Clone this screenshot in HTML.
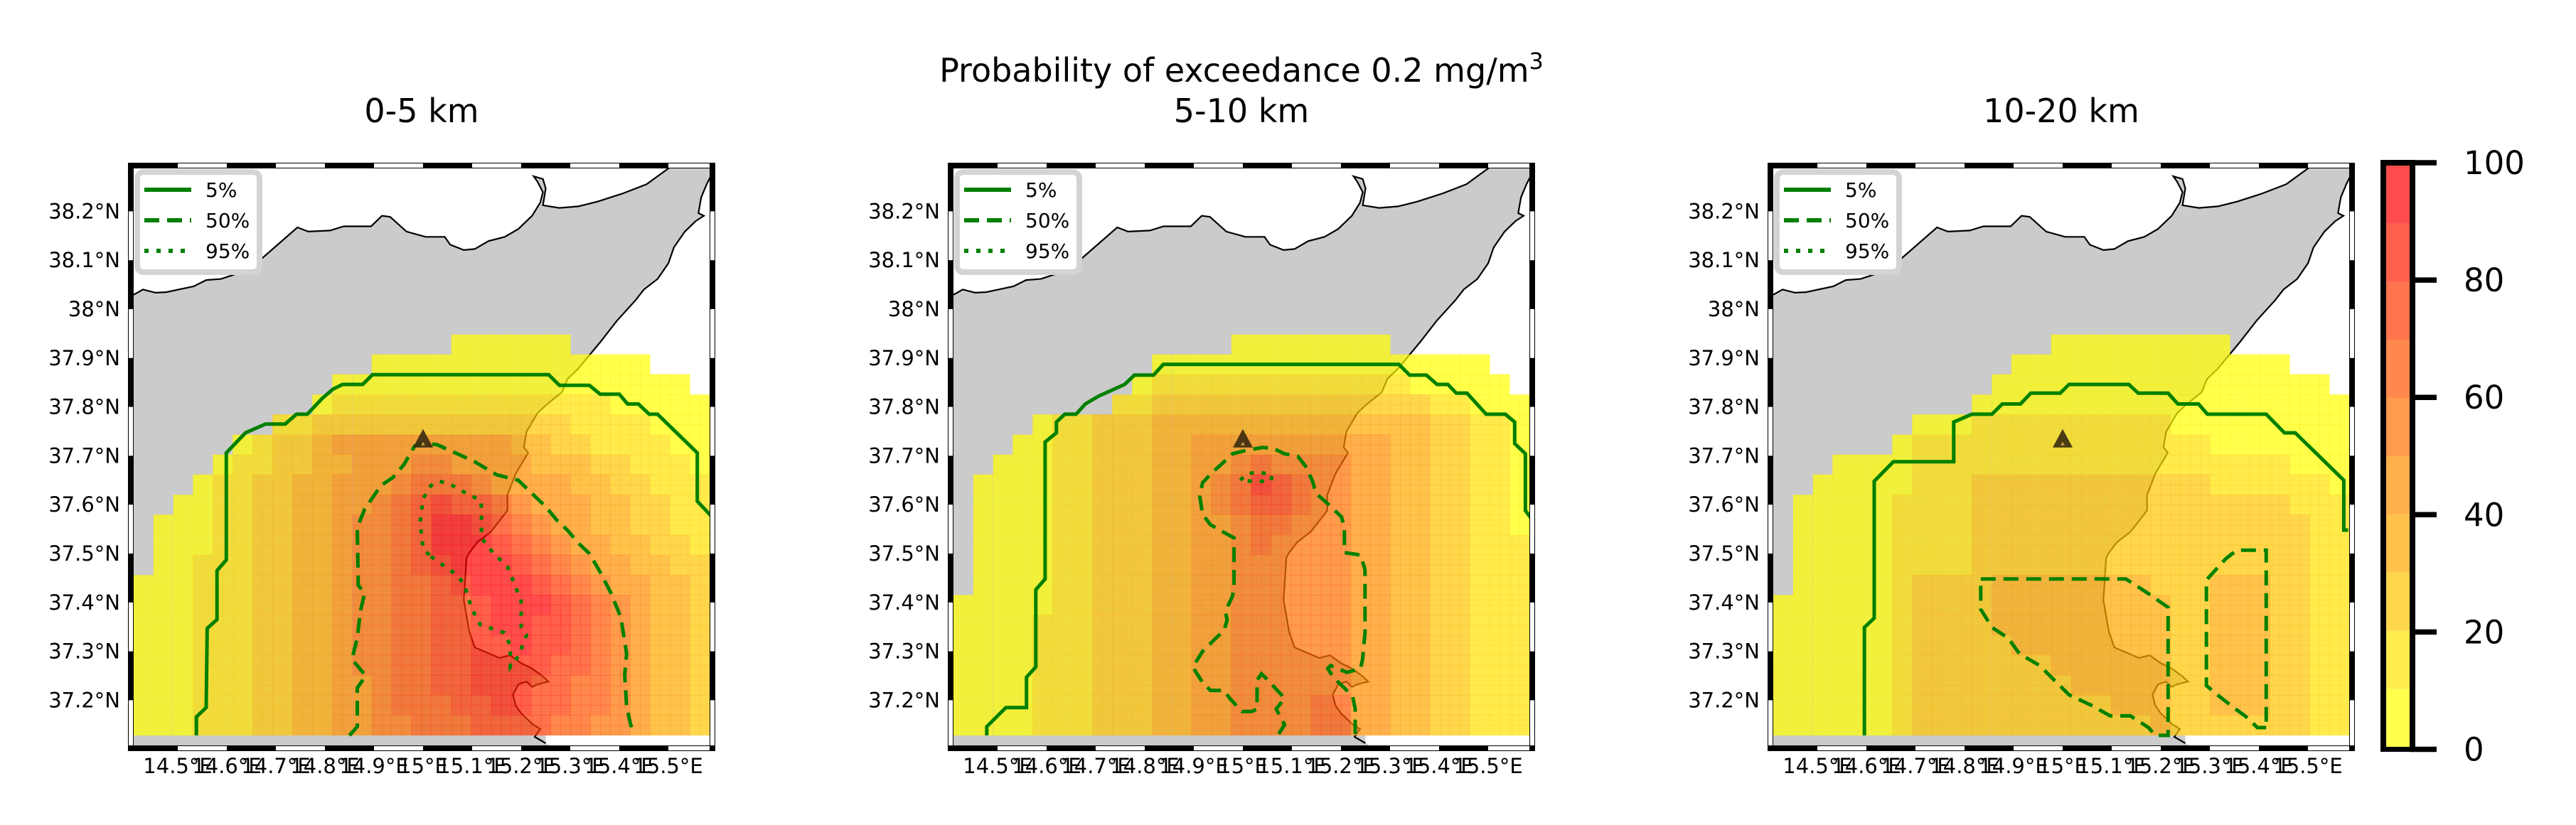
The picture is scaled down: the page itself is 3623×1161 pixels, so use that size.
<!DOCTYPE html>
<html><head><meta charset="utf-8"><style>
html,body{margin:0;padding:0;background:#fff;}
svg{display:block;font-family:"DejaVu Sans","Liberation Sans",sans-serif;}
</style></head><body>
<svg id="fig" xmlns="http://www.w3.org/2000/svg" width="3623" height="1161" viewBox="0 0 3623 1161">
<rect width="3623" height="1161" fill="#fff"/>
<text x="1746" y="115" font-size="46" text-anchor="middle">Probability of exceedance 0.2 mg/m<tspan font-size="32" dy="-18">3</tspan></text>
<g id="panels"></g>
<g id="cbar"></g>
</svg>
<script>
// ---------- data ----------
const panelTitles = ["0-5 km", "5-10 km", "10-20 km"];
const lonTicks = [14.5, 14.6, 14.7, 14.8, 14.9, 15.0, 15.1, 15.2, 15.3, 15.4, 15.5];
const latTicks = [37.2, 37.3, 37.4, 37.5, 37.6, 37.7, 37.8, 37.9, 38.0, 38.1, 38.2];
const cbTicks = [0, 20, 40, 60, 80, 100];
const cbLevels = [0, 1, 2, 3, 4, 5, 6, 7, 8, 9];
const legendLabels = ["5%", "50%", "95%"];
const vent = [15.0, 37.73];
// probability bins (0-9 = 0-10%..90-100%), rows north->south, cols west->east
const prob0to5 = [
"................000000.......",
"............00000000000000...",
"..........000000000000000000.",
".........01111111111111100000",
".......1122222222222221111000",
".....012234444444443322111100",
"....0112233444554444333221110",
"...01122334445666544443322111",
"..001122334456787765444332211",
".0001122334556799876544332211",
".0001122334556799987654433221",
".0011122334556789998765443322",
"00011122334556678999876544332",
"00011122334556677899987654332",
"00011122334556677899887654332",
"00011122334556677889887654332",
"00011122334556677888877654332",
"00011122334456677888776654332",
"00011122334456667788776654332",
"00011122334455666777766554332"];
const prob5to10 = [
"..............00000000.......",
"..........00000000000000000..",
".........0111111111111100000.",
"........112222222222222211000",
"....0112223333333333333322110",
"...00112223344444444443322110",
"..000112223344565555443322110",
".0000112223345687655443322110",
".0000112223345677655443322110",
".0000112223344566555443322110",
".0000112223344565555443322111",
".0000112223344555555443322111",
".0000112223344555555443322111",
"00000112223344555555443322111",
"00001112223344555555443322111",
"00001112223344555555443322111",
"00001112223344555555443322111",
"00001112223344555555443322111",
"00001112223344555566443322111",
"00001112223344555566443322111"];
const prob10to20 = [
".............." + "000000000" + "......",
"............" + "00000000000000" + "...",
"..........." + "00000000000000000" + ".",
".........." + "0000000000000000000",
"......." + "000" + "1111111111" + "000000000",
"......" + "0" + "111" + "1111111111" + "11" + "0000" + "000",
"..." + "0000" + "111" + "1111111111" + "11" + "1111" + "000",
".." + "00000" + "111" + "2222222222" + "22" + "1111" + "11" + "0",
"." + "00000" + "1" + "111" + "2222222222" + "22" + "2222" + "11" + "1",
"." + "00000" + "1111" + "2222222222" + "22" + "2222" + "2" + "11",
"." + "00000" + "1111" + "2222222222" + "22" + "2222" + "2" + "11",
"." + "00000" + "1111" + "2222222222" + "22" + "2222" + "2" + "11",
".00000" + "1" + "222" + "2" + "33333333" + "2" + "22" + "333" + "2" + "2" + "11",
"000000" + "1" + "222" + "2" + "333333333" + "22" + "333" + "2" + "2" + "11",
"000000" + "1" + "222" + "2" + "333333333" + "22" + "333" + "2" + "2" + "11",
"000000" + "1" + "222" + "2" + "2" + "33333333" + "22" + "333" + "22" + "11",
"000000" + "1" + "222" + "2" + "222" + "333333" + "22" + "333" + "22" + "11",
"000000" + "1" + "222" + "2" + "2222" + "33333" + "22" + "333" + "22" + "11",
"000000" + "1" + "222" + "2" + "222222" + "333" + "22" + "333" + "22" + "11",
"000000" + "1" + "222" + "2" + "22222222" + "3" + "22" + "222" + "22" + "11"];
const probGrids = [prob0to5, prob5to10, prob10to20];
// contour lines [lon, lat]
const c5_p1 = [[14.538,37.128],[14.538,37.166],[14.558,37.185],[14.560,37.347],[14.580,37.365],[14.580,37.465],[14.599,37.487],[14.599,37.706],[14.638,37.747],[14.679,37.765],[14.719,37.765],[14.742,37.785],[14.764,37.785],[14.794,37.817],[14.816,37.836],[14.836,37.846],[14.877,37.846],[14.897,37.866],[15.256,37.866],[15.278,37.844],[15.339,37.844],[15.361,37.826],[15.400,37.826],[15.417,37.806],[15.439,37.806],[15.461,37.785],[15.478,37.785],[15.559,37.706],[15.559,37.607],[15.589,37.575]];
const c50_p1 = [[14.850,37.128],[14.866,37.146],[14.866,37.225],[14.883,37.250],[14.855,37.284],[14.866,37.327],[14.872,37.381],[14.881,37.419],[14.868,37.435],[14.866,37.553],[14.881,37.591],[14.914,37.639],[14.939,37.656],[14.961,37.682],[14.983,37.720],[15.000,37.725],[15.028,37.723],[15.066,37.706],[15.105,37.688],[15.150,37.661],[15.194,37.650],[15.222,37.623],[15.250,37.596],[15.272,37.569],[15.294,37.548],[15.317,37.521],[15.339,37.500],[15.361,37.462],[15.383,37.419],[15.403,37.370],[15.415,37.295],[15.411,37.252],[15.415,37.187],[15.422,37.155],[15.428,37.134]];
const c95_p1 = [[15.016,37.494],[15.061,37.462],[15.083,37.440],[15.094,37.403],[15.105,37.376],[15.117,37.354],[15.139,37.347],[15.166,37.338],[15.178,37.311],[15.178,37.268],[15.194,37.290],[15.211,37.333],[15.200,37.349],[15.200,37.403],[15.183,37.446],[15.172,37.473],[15.144,37.500],[15.119,37.532],[15.119,37.596],[15.117,37.609],[15.083,37.626],[15.055,37.642],[15.033,37.648],[15.016,37.639],[15.000,37.612],[14.994,37.564],[15.000,37.510],[15.016,37.494]];
const c5_p2 = [[14.478,37.128],[14.478,37.146],[14.517,37.185],[14.559,37.185],[14.559,37.247],[14.578,37.268],[14.578,37.426],[14.597,37.448],[14.597,37.728],[14.620,37.747],[14.620,37.769],[14.637,37.785],[14.660,37.785],[14.679,37.806],[14.706,37.822],[14.759,37.846],[14.779,37.865],[14.818,37.865],[14.838,37.887],[15.318,37.887],[15.340,37.865],[15.374,37.865],[15.396,37.846],[15.418,37.846],[15.435,37.828],[15.457,37.828],[15.496,37.785],[15.535,37.785],[15.554,37.769],[15.554,37.725],[15.576,37.704],[15.576,37.588],[15.587,37.573]];
const c50_p2 = [[15.073,37.131],[15.085,37.150],[15.068,37.182],[15.085,37.204],[15.051,37.241],[15.038,37.254],[15.029,37.241],[15.029,37.182],[15.018,37.177],[14.998,37.177],[14.973,37.204],[14.962,37.220],[14.934,37.220],[14.918,37.236],[14.898,37.268],[14.918,37.300],[14.945,37.327],[14.962,37.343],[14.968,37.365],[14.964,37.381],[14.979,37.413],[14.982,37.435],[14.982,37.532],[14.962,37.543],[14.934,37.559],[14.918,37.580],[14.912,37.618],[14.918,37.645],[14.940,37.668],[14.962,37.688],[14.979,37.704],[15.007,37.711],[15.040,37.717],[15.062,37.715],[15.085,37.704],[15.112,37.699],[15.129,37.677],[15.142,37.648],[15.149,37.623],[15.173,37.602],[15.201,37.575],[15.207,37.553],[15.207,37.502],[15.240,37.497],[15.249,37.467],[15.249,37.338],[15.244,37.284],[15.240,37.265],[15.212,37.257],[15.179,37.271],[15.173,37.265],[15.185,37.246],[15.207,37.225],[15.224,37.207],[15.229,37.182],[15.229,37.131]];
const c95_p2 = [[14.995,37.650],[15.009,37.664],[15.035,37.666],[15.060,37.661],[15.057,37.648],[15.035,37.648],[15.018,37.648],[14.995,37.650]];
const c5_p3 = [[14.596,37.128],[14.596,37.349],[14.616,37.368],[14.616,37.648],[14.655,37.688],[14.778,37.688],[14.778,37.769],[14.815,37.785],[14.856,37.785],[14.877,37.806],[14.914,37.806],[14.935,37.828],[14.995,37.828],[15.013,37.846],[15.135,37.846],[15.154,37.828],[15.215,37.828],[15.235,37.806],[15.277,37.806],[15.295,37.785],[15.415,37.785],[15.452,37.747],[15.474,37.747],[15.573,37.650],[15.573,37.548],[15.582,37.548]];
const c50a_p3 = [[14.833,37.448],[15.129,37.448],[15.166,37.424],[15.215,37.390],[15.215,37.128],[15.189,37.128],[15.175,37.144],[15.138,37.168],[15.097,37.168],[15.058,37.190],[15.013,37.211],[14.953,37.271],[14.912,37.295],[14.889,37.327],[14.856,37.349],[14.833,37.386],[14.833,37.448]];
const c50b_p3 = [[15.415,37.144],[15.397,37.144],[15.374,37.166],[15.346,37.187],[15.318,37.209],[15.293,37.230],[15.293,37.446],[15.332,37.489],[15.355,37.507],[15.415,37.507],[15.415,37.144]];
const contours = [
  [{pts:c5_p1,k:0},{pts:c50_p1,k:1},{pts:c95_p1,k:2}],
  [{pts:c5_p2,k:0},{pts:c50_p2,k:1},{pts:c95_p2,k:2}],
  [{pts:c5_p3,k:0},{pts:c50a_p3,k:1},{pts:c50b_p3,k:1}]
];
// coastline traced in reference pixel space of panel 1 (converted to lon/lat below)
const coastRaw = [[240,1430],[245,560],[262,550],[285,556],[305,555],[355,544],[378,532],[405,530],[440,518],[470,500],[545,432],[565,440],[605,438],[630,430],[680,430],[700,410],[715,412],[745,440],[780,450],[815,450],[825,465],[850,475],[870,473],[895,458],[925,450],[950,435],[975,410],[990,385],[995,365],[985,345],[978,335],[995,340],[1000,358],[995,390],[1025,395],[1060,392],[1095,383],[1140,368],[1185,350],[1230,316],[1320,316],[1305,330],[1295,350],[1285,375],[1280,405],[1290,410],[1275,420],[1255,440],[1235,470],[1225,500],[1205,530],[1180,550],[1165,570],[1130,610],[1100,650],[1060,700],[1040,720],[1030,745],[1000,770],[985,785],[965,820],[960,850],[968,860],[945,900],[930,940],[930,970],[900,1010],[875,1030],[860,1050],[855,1060],[850,1140],[860,1200],[870,1230],[915,1250],[935,1245],[955,1260],[975,1270],[995,1285],[1005,1295],[985,1300],[975,1305],[965,1295],[950,1300],[940,1320],[945,1340],[955,1355],[975,1375],[990,1385],[980,1400],[1000,1412],[1030,1430]];

// ---------- geometry ----------
const NS = "http://www.w3.org/2000/svg";
const lon0 = 14.41, dlon = 0.0405, latBot = 37.128, dlat = 0.041;
function X(p, lon){ return 595 + 1153*p + (lon-15)*690; }
function Y(lat){ return 435 - (lat-38)*688; }
const coast = coastRaw.map(c => [15 + (c[0]/1.303 - 595)/690, 38 + (435 - c[1]/1.35)/688]);
function el(tag, attrs, parent){ const e = document.createElementNS(NS, tag); for (const k in attrs) e.setAttribute(k, attrs[k]); parent.appendChild(e); return e; }
function color(k){ return "rgb(255," + Math.round(255*(1-k/9)) + ",0)"; }
function fmtLon(t){ return (Math.abs(t-15)<1e-9 ? "15" : t.toFixed(1)) + "°E"; }
function fmtLat(t){ return (Math.abs(t-38)<1e-9 ? "38" : t.toFixed(1)) + "°N"; }

const root = document.getElementById("panels");
const dashes = ["none", "21 11", "6 11"];

for (let p = 0; p < 3; p++){
  const ix0 = 188 + 1153*p, ix1 = 998 + 1153*p, iy0 = 237, iy1 = 1049;
  const g = el("g", {}, root);
  
  
  const t = el("text", {x: (ix0+ix1)/2, y: 172, "font-size": 46, "text-anchor": "middle"}, g);
  t.textContent = panelTitles[p];
  
  
  el("rect", {x: ix0-8, y: iy0-8, width: ix1-ix0+16, height: iy1-iy0+16, fill: "#000"}, g);
  const defs = el("defs", {}, g);
  const cp = el("clipPath", {id: "clip"+p}, defs);
  el("rect", {x: ix0, y: iy0, width: ix1-ix0, height: iy1-iy0}, cp);
  const m = el("g", {"clip-path": "url(#clip"+p+")"}, g);
  el("rect", {x: ix0, y: iy0, width: ix1-ix0, height: iy1-iy0, fill: "#fff"}, m);
  const land = el("polygon", {points: coast.map(c => X(p,c[0]).toFixed(1)+","+Y(c[1]).toFixed(1)).join(" "), fill: "#cbcbcb"}, m);
  
  
  // southern land strip below the data grid (Sicily)
  el("rect", {x: ix0, y: Y(latBot).toFixed(1), width: (X(p,15.25)-ix0).toFixed(1), height: (iy1-Y(latBot)+2).toFixed(1), fill: "#cbcbcb"}, m);
  const cl = el("polyline", {points: coast.slice(1, -1).map(c => X(p,c[0]).toFixed(1)+","+Y(c[1]).toFixed(1)).join(" "), fill: "none", stroke: "#000", "stroke-width": 2.2}, m);
  
  
  const cells = el("g", {"shape-rendering": "crispEdges"}, m);
  
  
  const grid = probGrids[p];
  for (let i = 0; i < grid.length; i++){
    const row = grid[i];
    for (let j = 0; j < row.length; j++){
      const ch = row[j];
      if (ch === ".") continue;
      const k = +ch;
      const x0 = X(p, lon0 + j*dlon), x1 = X(p, lon0 + (j+1)*dlon);
      const yT = Y(latBot + (grid.length - i)*dlat), yB = Y(latBot + (grid.length - i - 1)*dlat);
      const r = el("rect", {x: x0.toFixed(1), y: yT.toFixed(1), width: (x1-x0).toFixed(1), height: (yB-yT).toFixed(1), fill: color(k), "fill-opacity": 0.7}, cells);
      
      
      const xm = (x0+x1)/2, ym = (yT+yB)/2;
      el("path", {d: "M"+x0.toFixed(1)+","+yT.toFixed(1)+"H"+x1.toFixed(1)+"M"+x0.toFixed(1)+","+ym.toFixed(1)+"H"+x1.toFixed(1)+"M"+x0.toFixed(1)+","+yT.toFixed(1)+"V"+yB.toFixed(1)+"M"+xm.toFixed(1)+","+yT.toFixed(1)+"V"+yB.toFixed(1), stroke: color(Math.min(9,k+1)), "stroke-opacity": 0.3, "stroke-width": 1, fill: "none"}, cells);
    }
  }
  contours[p].forEach(c => {
    const pl = el("polyline", {points: c.pts.map(q => X(p,q[0]).toFixed(1)+","+Y(q[1]).toFixed(1)).join(" "), fill: "none", stroke: "#008000", "stroke-width": 5, "stroke-dasharray": dashes[c.k], "stroke-linejoin": "miter"}, m);
    
    
  });
  const vx = X(p, vent[0]), vy = Y(vent[1]);
  const tri = el("polygon", {points: vx+","+(vy-17)+" "+(vx-14)+","+(vy+9)+" "+(vx+14)+","+(vy+9), fill: "#3a2a0e", "fill-opacity": 0.9}, m);
  
  
  el("polygon", {points: vx+","+(vy+1)+" "+(vx-3)+","+(vy+6)+" "+(vx+3)+","+(vy+6), fill: "#c8a040"}, m);
  const lg = el("g", {}, g);
  
  
  el("rect", {x: ix0+5, y: iy0+5, width: 172, height: 141, rx: 9, fill: "#fff", stroke: "#d4d4d4", "stroke-width": 8}, lg);
  legendLabels.forEach((lab, k) => {
    const yy = 267 + k*43;
    const ln = el("line", {x1: ix0+15, x2: ix0+81, y1: yy, y2: yy, stroke: "#008000", "stroke-width": 6, "stroke-dasharray": dashes[k]}, lg);
    
    
    const tx = el("text", {x: ix0+101, y: yy+10, "font-size": 28}, lg);
    tx.textContent = lab;
    
    
  });
  for (let a = 14.5; a < 15.65; a += 0.2){
    const xa = Math.max(X(p,a), ix0), xb = Math.min(X(p,a+0.1), ix1);
    if (xb <= xa) continue;
    el("rect", {x: xa, y: iy0-7, width: xb-xa, height: 6, fill: "#fff"}, g);
    el("rect", {x: xa, y: iy1+1, width: xb-xa, height: 6, fill: "#fff"}, g);
  }
  for (let b = 37.1; b < 38.25; b += 0.2){
    const ya = Math.max(Y(b+0.1), iy0), yb = Math.min(Y(b), iy1);
    if (yb <= ya) continue;
    el("rect", {x: ix0-7, y: ya, width: 6, height: yb-ya, fill: "#fff"}, g);
    el("rect", {x: ix1+1, y: ya, width: 6, height: yb-ya, fill: "#fff"}, g);
  }
  lonTicks.forEach(tk => {
    const tx = el("text", {x: X(p,tk).toFixed(1), y: 1088, "font-size": 29, "text-anchor": "middle"}, g);
    tx.textContent = fmtLon(tk);
    
    
  });
  latTicks.forEach(tk => {
    const tx = el("text", {x: ix0-19, y: (Y(tk)+10).toFixed(1), "font-size": 29, "text-anchor": "end"}, g);
    tx.textContent = fmtLat(tk);
    
    
  });
}

// ---------- colorbar ----------
const cb = document.getElementById("cbar");
el("rect", {x: 3348, y: 225, width: 49, height: 833, fill: "#000"}, cb);
el("rect", {x: 3356, y: 233, width: 33, height: 818, fill: "#fff"}, cb);
const binH = 818/cbLevels.length;
cbLevels.forEach(k => {
  const r = el("rect", {x: 3356, y: (1051 - (k+1)*binH).toFixed(1), width: 33, height: binH.toFixed(1), fill: color(k), "fill-opacity": 0.7}, cb);
  
  
});
cbTicks.forEach(v => {
  const y = 1054.5 - v/100*825.5;
  const tl = el("line", {x1: 3389, x2: 3427, y1: y, y2: y, stroke: "#000", "stroke-width": 7.5}, cb);
  
  
  const tx = el("text", {x: 3465, y: (y+16).toFixed(1), "font-size": 45}, cb);
  tx.textContent = String(v);
  
  
});
</script>
</body></html>
